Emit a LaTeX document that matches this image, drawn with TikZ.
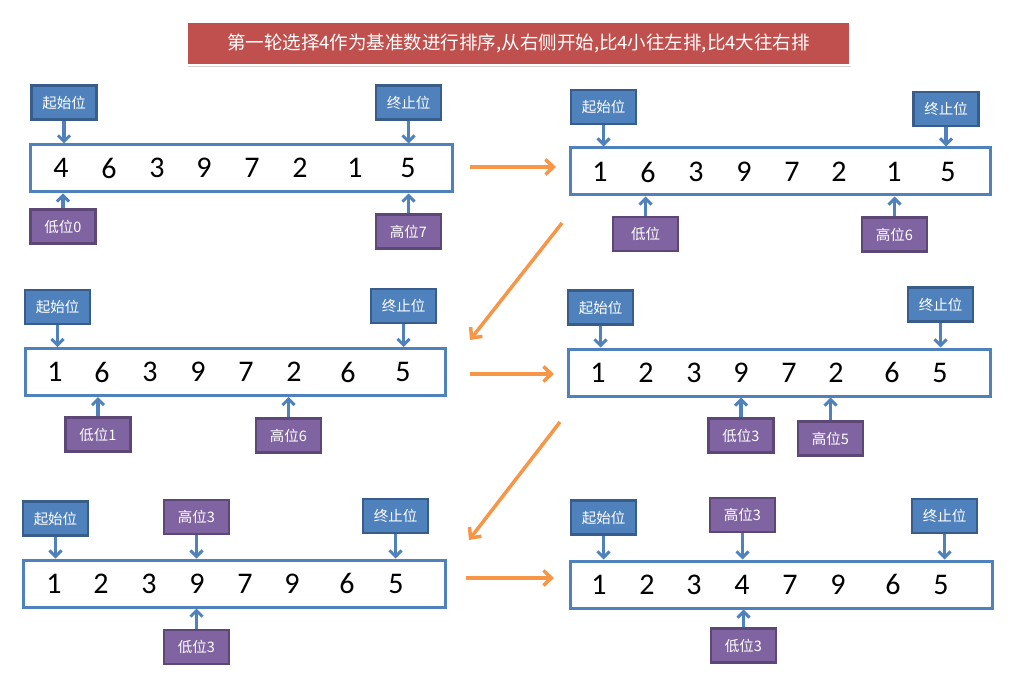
\documentclass[tikz,border=0pt]{standalone}
\usepackage{fontspec}
\setmainfont{Carlito}
\newfontfamily\cjk{Noto Sans CJK SC}
\usetikzlibrary{arrows.meta,shadows,calc}
\definecolor{tagblue}{HTML}{4F81BD}
\definecolor{tagblueedge}{HTML}{385D8A}
\definecolor{tagpurple}{HTML}{8064A2}
\definecolor{tagpurpleedge}{HTML}{5C4776}
\definecolor{titlered}{HTML}{C0504D}
\definecolor{flow}{HTML}{F79646}
\tikzset{
  arraybox/.style={draw=tagblue, line width=3pt, fill=white, minimum height=47pt, inner sep=0pt},
  num/.style={font=\fontsize{30}{32}\selectfont, text=black, inner sep=0pt},
  tagbase/.style={minimum width=65pt, minimum height=34pt, inner sep=0pt, line width=2.5pt,
    text=white, font=\cjk\fontsize{14.5}{16}\selectfont},
  bluetag/.style={tagbase, fill=tagblue, draw=tagblueedge},
  purpletag/.style={tagbase, fill=tagpurple, draw=tagpurpleedge},
  pointer/.style={draw=tagblue, line width=3.5pt, -{Straight Barb[length=6pt,width=12pt,line width=3pt]}},
  flowarrow/.style={draw=flow, line width=3.5pt, -{Straight Barb[length=8pt,width=15pt,line width=3.5pt]}},
}
\begin{document}
\begin{tikzpicture}[x=1pt,y=-1pt]
\fill[white] (0,0) rectangle (1031,687);
\useasboundingbox (0,0) rectangle (1031,687);

% heading
\node[fill=titlered, draw=white, line width=1.5pt, minimum width=663pt, minimum height=43pt,
  text=white, font=\cjk\fontsize{18.5}{20}\selectfont,
  drop shadow={opacity=0.35, shadow xshift=1pt, shadow yshift=-2pt}]
  (title) at (518.5,43.5) {第一轮选择4作为基准数进行排序,从右侧开始,比4小往左排,比4大往右排};

% arrays with their numbers (x:value)
\node[arraybox, minimum width=422pt] (a1) at (241,168.5) {};
\foreach \x/\n [count=\i] in {61/4,109/6,157/3,204/9,252/7,300/2,355/1,408/5}
  \node[num] (a1n\i) at (\x,168) {\n};

\node[arraybox, minimum width=420pt] (a2) at (780,171.5) {};
\foreach \x/\n [count=\i] in {600/1,648/6,696/3,744/9,792/7,839/2,894/1,948/5}
  \node[num] (a2n\i) at (\x,172) {\n};

\node[arraybox, minimum width=420pt] (a3) at (235,372) {};
\foreach \x/\n [count=\i] in {55/1,102/6,150/3,198/9,246/7,294/2,348/6,403/5}
  \node[num] (a3n\i) at (\x,372) {\n};

\node[arraybox, minimum width=422pt] (a4) at (779,372.5) {};
\foreach \x/\n [count=\i] in {598/1,646/2,694/3,741/9,789/7,836/2,892/6,940/5}
  \node[num] (a4n\i) at (\x,372.5) {\n};

\node[arraybox, minimum width=422pt] (a5) at (234,583.5) {};
\foreach \x/\n [count=\i] in {54/1,101/2,149/3,197/9,245/7,292/9,347/6,396/5}
  \node[num] (a5n\i) at (\x,583.5) {\n};

\node[arraybox, minimum width=422pt] (a6) at (781,584.5) {};
\foreach \x/\n [count=\i] in {599/1,647/2,694/3,742/4,790/7,838/9,893/6,941/5}
  \node[num] (a6n\i) at (\x,584.5) {\n};

% labels above (start / end / high) and below (low / high)
\node[bluetag] (s1) at (64,102.5) {起始位};
\node[bluetag] (e1) at (408.5,102.5) {终止位};
\node[purpletag] (l1) at (63,226.5) {低位0};
\node[purpletag] (h1) at (408.5,231.5) {高位7};

\node[bluetag] (s2) at (603.5,107) {起始位};
\node[bluetag] (e2) at (946,109) {终止位};
\node[purpletag] (l2) at (645.5,234) {低位};
\node[purpletag] (h2) at (894.5,234.5) {高位6};

\node[bluetag] (s3) at (57.5,307) {起始位};
\node[bluetag] (e3) at (403.5,306) {终止位};
\node[purpletag] (l3) at (98,434.5) {低位1};
\node[purpletag] (h3) at (288.5,435.5) {高位6};

\node[bluetag] (s4) at (600.5,307.5) {起始位};
\node[bluetag] (e4) at (940.5,304.5) {终止位};
\node[purpletag] (l4) at (741,435.5) {低位3};
\node[purpletag] (h4) at (830.5,438.5) {高位5};

\node[bluetag] (s5) at (55.5,518.5) {起始位};
\node[purpletag] (h5) at (196.5,517) {高位3};
\node[bluetag] (e5) at (395.5,516) {终止位};
\node[purpletag] (l5) at (196.5,647) {低位3};

\node[bluetag] (s6) at (603.5,517.5) {起始位};
\node[purpletag] (h6) at (742.5,515) {高位3};
\node[bluetag] (e6) at (944.5,516) {终止位};
\node[purpletag] (l6) at (743.5,645.5) {低位3};

% pointers from labels to the array frames
\foreach \t/\a in {s1/a1,e1/a1,s2/a2,e2/a2,s3/a3,e3/a3,s4/a4,e4/a4,s5/a5,h5/a5,e5/a5,s6/a6,h6/a6,e6/a6}
  \draw[pointer] (\t.south) -- (\t.south |- \a.north);
\foreach \t/\a in {l1/a1,h1/a1,l2/a2,h2/a2,l3/a3,h3/a3,l4/a4,h4/a4,l5/a5,l6/a6}
  \draw[pointer] (\t.north) -- (\t.north |- \a.south);

% flow between the steps
\coordinate (f1s) at (470,167);
\coordinate (f1e) at (556,167);
\coordinate (f2s) at (562,223);
\coordinate (f2e) at (470,340);
\coordinate (f3s) at (470,374);
\coordinate (f3e) at (554,374);
\coordinate (f4s) at (560,422);
\coordinate (f4e) at (469,540);
\coordinate (f5s) at (466,578);
\coordinate (f5e) at (554,578);
\foreach \k in {1,...,5}
  \draw[flowarrow] (f\k s) -- (f\k e);
\end{tikzpicture}
\end{document}
